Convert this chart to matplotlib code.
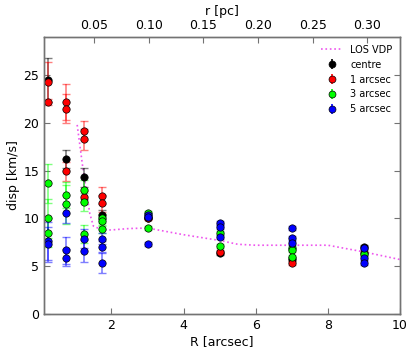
import matplotlib
matplotlib.use('Agg')
import matplotlib.pyplot as plt

# ============================================================
# Data
# ============================================================
ARCSEC_TO_PC = 0.033

vdp_R = [1.05, 1.2, 1.3, 1.4, 1.5, 1.75, 2.0, 2.5, 3.0, 4.0, 5.0, 5.5, 6.0, 7.0, 8.0, 9.0, 10.0]
vdp_disp = [19.8, 15.5, 13.0, 10.5, 9.2, 8.8, 8.8, 8.95, 9.0, 8.3, 7.7, 7.3, 7.2, 7.2, 7.2, 6.5, 5.7]

centre_R = [0.25, 0.75, 1.25, 1.75, 3, 5, 7, 9]
centre_disp = [24.5, 16.2, 14.33, 10.4, 10.1, 6.4, 5.72, 7.04]
centre_err = [2.35, 0.95, 1.0, 0.5, 0.2, 0.2, 0.2, 0.2]

r1_R = [0.25, 0.25, 0.75, 0.75, 0.75, 1.25, 1.25, 1.25, 1.75, 1.75, 3, 5, 7, 9]
r1_disp = [24.3, 22.2, 22.2, 21.5, 14.96, 19.2, 18.3, 12.3, 12.4, 11.58, 10.0, 6.52, 5.37, 6.42]
r1_err = [2.1, 0.3, 1.9, 1.5, 1.0, 1.0, 1.1, 0.6, 0.9, 0.9, 0.2, 0.2, 0.2, 0.2]

r3_R = [0.25, 0.25, 0.25, 0.75, 0.75, 1.25, 1.25, 1.25, 1.75, 1.75, 1.75, 3, 3, 5, 5, 7, 7, 7, 9]
r3_disp = [13.67, 10.0, 8.5, 12.45, 11.47, 13.0, 11.75, 8.37, 10.0, 9.76, 8.86,
           10.6, 9.0, 8.5, 7.14, 6.87, 6.7, 6.0, 6.3]
r3_err = [2.0, 2.0, 1.5, 1.35, 2.07, 1.0, 0.95, 0.93, 0.5, 0.4, 0.4,
          0.2, 0.2, 0.2, 0.2, 0.2, 0.2, 0.2, 0.2]

r5_R = [0.25, 0.25, 0.75, 0.75, 0.75, 1.25, 1.25, 1.75, 1.75, 1.75,
        3, 3, 3, 5, 5, 5, 7, 7, 7, 9, 9, 9]
r5_disp = [7.67, 7.29, 10.56, 6.66, 5.89, 7.88, 6.59, 7.88, 7.04, 5.37,
           10.36, 10.2, 7.29, 9.55, 9.07, 8.02, 9.0, 7.92, 7.4, 6.94, 5.89, 5.37]
r5_err = [2.0, 1.8, 1.0, 1.45, 0.9, 1.0, 1.15, 0.6, 0.6, 1.05,
          0.2, 0.2, 0.2, 0.2, 0.2, 0.2, 0.2, 0.2, 0.2, 0.2, 0.2, 0.2]

x_ticks = [2, 4, 6, 8, 10]
y_ticks = [0, 5, 10, 15, 20, 25]
top_ticks = [0.05, 0.10, 0.15, 0.20, 0.25, 0.30]

# ============================================================
# Style
# ============================================================
plt.rcParams.update({
    'font.family': 'DejaVu Sans',
    'font.size': 9,
    'axes.edgecolor': '0.45',
    'axes.linewidth': 1.0,
    'xtick.direction': 'in',
    'ytick.direction': 'in',
    'xtick.major.size': 4,
    'ytick.major.size': 4,
    'xtick.color': '0.45',
    'ytick.color': '0.45',
    'xtick.labelcolor': 'black',
    'ytick.labelcolor': 'black',
})

fig = plt.figure(figsize=(4.15, 3.56), dpi=100)
ax = fig.add_axes([0.106, 0.118, 0.858, 0.778])

ax.plot(vdp_R, vdp_disp, linestyle=':', color='#ee55ee', linewidth=1.2,
        label='LOS VDP', zorder=1)

series = [
    (centre_R, centre_disp, centre_err, 'black', 'centre'),
    (r1_R, r1_disp, r1_err, 'red', '1 arcsec'),
    (r3_R, r3_disp, r3_err, '#00ff00', '3 arcsec'),
    (r5_R, r5_disp, r5_err, 'blue', '5 arcsec'),
]
for R, d, e, c, lab in series:
    # faint error bars under solid markers
    ax.errorbar(R, d, yerr=e, fmt='none', ecolor=c, elinewidth=1.2,
                capsize=3, capthick=1, alpha=0.5, zorder=2)
    ax.plot(R, d, 'o', color=c, markersize=5.3, markeredgecolor='black',
            markeredgewidth=0.5, zorder=3)
    # legend proxy
    ax.errorbar([], [], yerr=[], fmt='o', color=c, ecolor=c, elinewidth=1.2,
                capsize=2, markersize=5, markeredgecolor='black',
                markeredgewidth=0.5, label=lab)

ax.set_xlim(0.13, 10)
ax.set_ylim(0, 29)
ax.set_xticks(x_ticks)
ax.set_yticks(y_ticks)
ax.tick_params(right=True, top=False)
ax.set_xlabel('R [arcsec]', labelpad=2)
ax.set_ylabel('disp [km/s]', labelpad=2)

ax.legend(loc='upper right', frameon=False, fontsize=7, numpoints=1,
          handlelength=2.2, labelspacing=0.5, borderaxespad=0.4)

ax2 = ax.twiny()
ax2.set_xlim(0.13 * ARCSEC_TO_PC, 10 * ARCSEC_TO_PC)
ax2.set_xticks(top_ticks)
ax2.set_xticklabels(['%.2f' % t for t in top_ticks])
ax2.set_xlabel('r [pc]', labelpad=3)

fig.savefig('out.png', dpi=100)
